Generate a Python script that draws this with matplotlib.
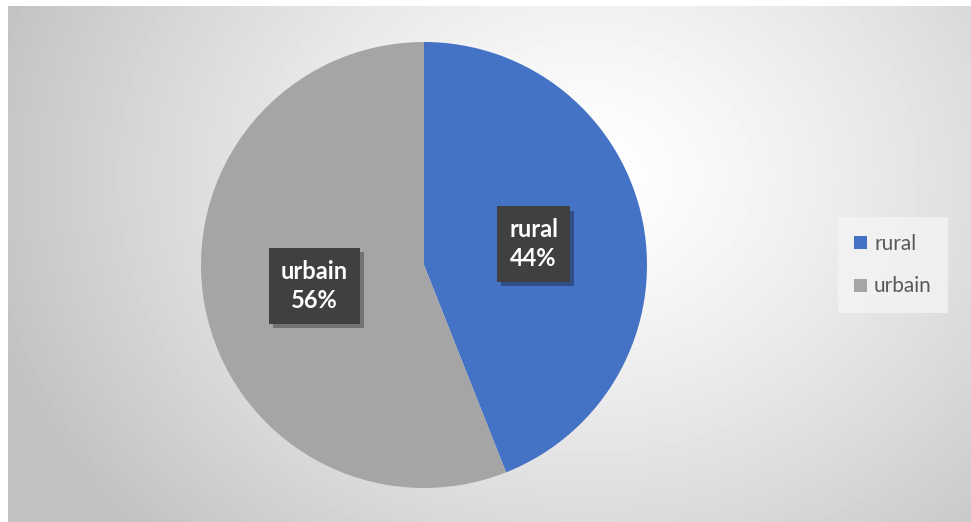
import numpy as np
import matplotlib.pyplot as plt
import matplotlib.patheffects as pe

# DATA
categories = ['rural', 'urbain']
shares = [44, 56]
colors = ['#4472C4', '#A5A5A5']

plt.rcParams['font.family'] = ['Lato', 'DejaVu Sans']

W, H = 971, 522
fig = plt.figure(figsize=(W / 100, H / 100), dpi=100)
fig.patch.set_facecolor('white')

# background: radial gradient (white centre, grey edges)
bg = fig.add_axes([8 / W, 0, (W - 8) / W, (H - 6) / H])
yy, xx = np.mgrid[0:516, 0:963]
d = np.sqrt(((xx - 580) / 620) ** 2 + ((yy - 170) / 520) ** 2)
d = np.clip(d, 0, 1)
shade = 1.0 - 0.24 * d ** 1.3
bg.imshow(shade, cmap='gray', vmin=0, vmax=1, aspect='auto', interpolation='bilinear')
bg.axis('off')

# pie
cx, cy, r = 424, 265, 223
ax = fig.add_axes([(cx - r) / W, (H - cy - r) / H, 2 * r / W, 2 * r / H])
ax.set_facecolor('none')


def fmt(pct):
    i = int(round(pct)) == shares[1]
    return f"{categories[int(i)]}\n{pct:.0f}%"


wedges, texts, autotexts = ax.pie(shares, colors=colors, startangle=90, counterclock=False,
                                  autopct=fmt, pctdistance=0.5,
                                  wedgeprops=dict(linewidth=0))
for t in autotexts:
    t.set_color('white')
    t.set_fontsize(17)
    t.set_fontweight('bold')
    t.set_linespacing(1.3)
    t.set_bbox(dict(boxstyle='square,pad=0.5', facecolor='#404040', edgecolor='none'))
    t.get_bbox_patch().set_path_effects([
        pe.withSimplePatchShadow(offset=(3, -3), shadow_rgbFace='black', alpha=0.3),
        pe.Normal()])
ax.set_xlim(-1, 1)
ax.set_ylim(-1, 1)
ax.set_aspect('equal')
ax.axis('off')

# legend
leg = fig.legend(wedges, categories, loc='center', bbox_to_anchor=(893 / W, (H - 265) / H),
                 frameon=True, fontsize=15, handlelength=0.6, handleheight=0.6,
                 handletextpad=0.35, labelspacing=1.1, borderpad=0.8, fancybox=False)
leg.get_frame().set_facecolor('#f4f4f4')
leg.get_frame().set_edgecolor('none')
leg.get_frame().set_alpha(0.8)
for t in leg.get_texts():
    t.set_color('#595959')

fig.savefig('out.png', dpi=100)
